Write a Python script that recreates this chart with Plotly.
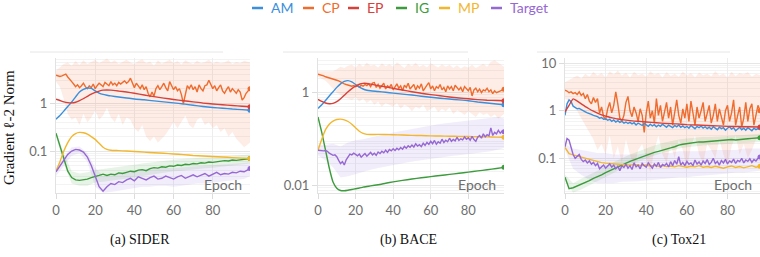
import plotly.graph_objects as go

# ---------------- data ----------------
SERIES = ["AM", "CP", "EP", "IG", "MP", "Target"]
PANELS = ["(a) SIDER", "(b) BACE", "(c) Tox21"]
Y_TITLE = "Gradient \u2113-2 Norm"

EPOCHS = list(range(100))
EPOCHS_TOX = list(range(97))
EPOCHS_2 = list(range(0, 98, 2)) + [99]
EPOCHS_2_TOX = list(range(0, 97, 2))
SMOOTH = [0, 2, 4, 6, 8, 10, 12, 14, 16, 18, 20, 22, 24, 26, 28, 32, 36, 40, 45, 50,
          55, 60, 65, 70, 75, 80, 85, 90, 95, 99]
SMOOTH_TOX = [0, 2, 4, 6, 8, 10, 12, 14, 16, 18, 20, 22, 24, 26, 28, 32, 36, 40, 45, 50,
              55, 60, 65, 70, 75, 80, 85, 90, 96]
BAND = list(range(0, 97, 4)) + [99]
BAND_TOX = list(range(0, 97, 4))

# ---- SIDER ----
SIDER_AM = [0.46, 0.55, 0.68, 0.85, 1.05, 1.35, 1.7, 1.92, 2.06, 2.02,
            1.8, 1.62, 1.52, 1.46, 1.41, 1.34, 1.28, 1.22, 1.17, 1.11,
            1.06, 1.01, 0.96, 0.9, 0.85, 0.81, 0.78, 0.75, 0.73, 0.71]
SIDER_EP = [1.2, 1.13, 1.06, 1.02, 1.01, 1.04, 1.12, 1.24, 1.38, 1.53,
            1.67, 1.78, 1.86, 1.88, 1.86, 1.78, 1.7, 1.6, 1.47, 1.36,
            1.27, 1.19, 1.12, 1.06, 1.0, 0.96, 0.92, 0.89, 0.86, 0.84]
SIDER_MP = [0.038, 0.06, 0.1, 0.15, 0.2, 0.232, 0.245, 0.24, 0.225, 0.2,
            0.175, 0.145, 0.12, 0.108, 0.104, 0.102, 0.1, 0.098, 0.095, 0.092,
            0.09, 0.087, 0.084, 0.081, 0.079, 0.077, 0.075, 0.073, 0.071, 0.07]
SIDER_CP = [3.8, 3.7, 3.6, 3.7, 3.9, 4.0, 3.5, 3.2, 2.8, 2.5,
            2.2, 2.4, 2.1, 2.3, 2.6, 2.2, 2.0, 2.3, 2.1, 2.5,
            2.0, 2.3, 2.6, 2.4, 2.2, 2.7, 2.5, 2.3, 2.8, 2.4,
            2.6, 2.3, 2.7, 2.5, 2.7, 2.9, 2.6, 2.8, 3.3, 2.6,
            2.1, 2.6, 2.3, 2.0, 2.4, 1.9, 2.2, 1.6, 1.35, 1.7,
            1.4, 2.0, 2.3, 1.9, 2.2, 2.6, 2.1, 1.8, 2.8, 2.2,
            1.9, 2.2, 1.8, 2.0, 1.5, 0.98, 1.6, 2.3, 2.0, 2.4,
            1.9, 2.2, 1.7, 2.4, 2.0, 1.8, 2.3, 2.4, 3.0, 2.5,
            2.0, 2.3, 1.8, 2.1, 2.4, 1.8, 1.6, 1.9, 2.2, 1.7,
            2.0, 1.8, 1.6, 1.9, 1.7, 1.15, 1.3, 1.6, 1.8, 2.0]
SIDER_CP_HI = [4.8, 5.5, 6.5, 7.0, 6.0, 7.5, 6.2, 7.8, 6.5, 7.2,
               8.0, 6.8, 7.5, 8.5, 7.0, 7.8, 6.5, 7.2, 8.0, 7.0,
               6.5, 7.5, 8.2, 6.8, 7.4, 6.0, 7.8, 6.6, 7.2, 8.0,
               6.8, 7.5, 6.4, 7.8, 7.0, 6.5, 7.6, 6.8, 7.2, 8.0,
               6.6, 7.4, 6.8, 7.0, 7.8, 6.5, 7.2, 6.8, 7.6, 7.0]
SIDER_CP_LO = [2.8, 2.2, 1.2, 0.6, 0.45, 0.5, 0.35, 0.6, 0.4, 0.5,
               0.7, 0.45, 0.55, 0.8, 0.5, 0.4, 0.6, 0.35, 0.5, 0.45,
               0.3, 0.25, 0.35, 0.2, 0.16, 0.2, 0.15, 0.18, 0.22, 0.3,
               0.4, 0.3, 0.4, 0.55, 0.35, 0.3, 0.45, 0.5, 0.35, 0.4,
               0.3, 0.35, 0.25, 0.3, 0.2, 0.25, 0.18, 0.15, 0.12, 0.15]
SIDER_IG = [0.235, 0.13, 0.07, 0.038, 0.028, 0.025, 0.0245, 0.025, 0.026, 0.028,
            0.03, 0.031, 0.033, 0.031, 0.033, 0.032, 0.035, 0.034, 0.036, 0.038,
            0.037, 0.04, 0.041, 0.039, 0.043, 0.045, 0.044, 0.047, 0.046, 0.049,
            0.048, 0.051, 0.05, 0.053, 0.052, 0.055, 0.054, 0.057, 0.056, 0.059,
            0.058, 0.06, 0.061, 0.063, 0.062, 0.065, 0.064, 0.066, 0.068, 0.07]
SIDER_IG_HI = [0.26, 0.09, 0.038, 0.034, 0.036, 0.04, 0.042, 0.044, 0.046, 0.048,
               0.052, 0.055, 0.058, 0.061, 0.063, 0.066, 0.068, 0.07, 0.072, 0.074,
               0.076, 0.078, 0.08, 0.082, 0.084, 0.085]
SIDER_IG_LO = [0.2, 0.055, 0.021, 0.019, 0.019, 0.022, 0.023, 0.024, 0.025, 0.026,
               0.028, 0.03, 0.032, 0.034, 0.036, 0.038, 0.039, 0.041, 0.042, 0.044,
               0.045, 0.047, 0.049, 0.05, 0.052, 0.055]
SIDER_TG = [0.037, 0.048, 0.065, 0.085, 0.1, 0.108, 0.105, 0.095, 0.075, 0.05,
            0.03, 0.018, 0.0145, 0.018, 0.021, 0.02, 0.023, 0.022, 0.025, 0.027,
            0.024, 0.029, 0.027, 0.025, 0.028, 0.03, 0.026, 0.027, 0.03, 0.028,
            0.026, 0.029, 0.031, 0.027, 0.03, 0.032, 0.029, 0.031, 0.034, 0.03,
            0.033, 0.036, 0.032, 0.034, 0.033, 0.036, 0.035, 0.038, 0.037, 0.043]
SIDER_TG_HI = [0.045, 0.075, 0.12, 0.125, 0.09, 0.045, 0.03, 0.032, 0.036, 0.038,
               0.04, 0.042, 0.043, 0.044, 0.045, 0.044, 0.046, 0.047, 0.048, 0.049,
               0.05, 0.052, 0.053, 0.054, 0.056, 0.058]
SIDER_TG_LO = [0.03, 0.05, 0.08, 0.09, 0.06, 0.018, 0.0135, 0.014, 0.015, 0.016,
               0.017, 0.018, 0.018, 0.019, 0.019, 0.018, 0.019, 0.02, 0.021, 0.021,
               0.022, 0.023, 0.024, 0.025, 0.026, 0.03]

# ---- BACE ----
BACE_AM = [0.46, 0.55, 0.68, 0.85, 1.05, 1.3, 1.55, 1.75, 1.82, 1.7,
           1.5, 1.32, 1.2, 1.13, 1.1, 1.06, 1.02, 0.98, 0.93, 0.89,
           0.84, 0.8, 0.76, 0.73, 0.7, 0.67, 0.63, 0.6, 0.57, 0.55]
BACE_EP = [0.72, 0.65, 0.6, 0.58, 0.59, 0.64, 0.74, 0.88, 1.05, 1.22,
           1.38, 1.52, 1.59, 1.58, 1.53, 1.42, 1.33, 1.24, 1.14, 1.05,
           0.97, 0.91, 0.86, 0.81, 0.77, 0.74, 0.71, 0.69, 0.68, 0.67]
BACE_MP = [0.058, 0.1, 0.16, 0.21, 0.245, 0.265, 0.27, 0.26, 0.24, 0.21,
           0.175, 0.148, 0.133, 0.127, 0.126, 0.127, 0.126, 0.125, 0.123, 0.121,
           0.12, 0.118, 0.117, 0.116, 0.115, 0.114, 0.113, 0.112, 0.111, 0.11]
BACE_IG = [0.3, 0.14, 0.058, 0.024, 0.012, 0.0088, 0.0079, 0.0078, 0.008, 0.0083,
           0.0086, 0.0089, 0.0093, 0.0096, 0.0099, 0.0105, 0.0113, 0.0121, 0.013, 0.0139,
           0.0148, 0.0157, 0.0166, 0.0175, 0.0185, 0.0196, 0.0208, 0.022, 0.0234, 0.0248]
BACE_CP = [2.5, 2.45, 2.35, 2.3, 2.2, 2.15, 2.1, 2.0, 1.95, 1.9,
           1.85, 1.8, 1.7, 1.62, 1.55, 1.5, 1.45, 1.4, 1.38, 1.42,
           1.35, 1.4, 1.32, 1.45, 1.38, 1.5, 1.42, 1.55, 1.35, 1.6,
           1.65, 1.3, 1.5, 1.25, 1.45, 1.6, 1.2, 1.4, 1.3, 1.5,
           1.15, 1.35, 1.55, 1.25, 1.4, 1.1, 1.45, 1.3, 1.6, 1.2,
           1.35, 1.5, 1.15, 1.4, 1.25, 1.55, 1.1, 1.3, 1.45, 1.65,
           1.2, 1.4, 1.1, 1.35, 1.25, 1.5, 1.15, 1.3, 1.05, 1.4,
           1.2, 1.35, 1.1, 1.45, 1.25, 1.15, 1.3, 1.05, 1.35, 1.2,
           1.1, 1.3, 0.85, 1.15, 1.25, 1.05, 1.2, 1.0, 1.15, 1.1,
           1.25, 1.05, 1.15, 0.95, 1.1, 1.0, 1.05, 1.1, 1.15, 1.18]
BACE_CP_HI = [2.9, 2.9, 2.8, 2.8, 2.9, 3.2, 3.6, 3.4, 3.8, 4.0,
              3.5, 4.2, 3.6, 4.4, 3.8, 4.0, 3.5, 4.3, 3.7, 4.1,
              3.6, 4.5, 3.9, 3.4, 4.2, 3.7, 4.4, 3.6, 4.0, 3.5,
              4.3, 3.8, 3.5, 4.1, 3.6, 4.0, 3.4, 3.9, 3.3, 3.7,
              3.5, 4.0, 3.4, 3.8, 4.2, 3.6, 4.6, 5.0, 4.4, 3.6]
BACE_CP_LO = [2.2, 2.0, 1.8, 1.5, 1.2, 1.0, 0.9, 0.8, 0.75, 0.7,
              0.8, 0.65, 0.75, 0.6, 0.7, 0.55, 0.65, 0.5, 0.6, 0.55,
              0.5, 0.6, 0.45, 0.55, 0.5, 0.4, 0.5, 0.45, 0.55, 0.4,
              0.45, 0.5, 0.38, 0.45, 0.4, 0.48, 0.35, 0.42, 0.38, 0.33,
              0.4, 0.35, 0.3, 0.38, 0.33, 0.36, 0.3, 0.34, 0.28, 0.35]
BACE_TG = [0.058, 0.057, 0.058, 0.056, 0.057, 0.055, 0.05, 0.047, 0.045, 0.046,
           0.042, 0.035, 0.03, 0.033, 0.028, 0.036, 0.042, 0.048, 0.046, 0.05,
           0.047, 0.044, 0.048, 0.041, 0.045, 0.049, 0.043, 0.047, 0.052, 0.046,
           0.05, 0.045, 0.053, 0.049, 0.055, 0.051, 0.058, 0.052, 0.06, 0.056,
           0.062, 0.057, 0.064, 0.059, 0.066, 0.061, 0.07, 0.064, 0.072, 0.067,
           0.075, 0.068, 0.08, 0.071, 0.076, 0.069, 0.082, 0.074, 0.085, 0.077,
           0.09, 0.08, 0.094, 0.078, 0.088, 0.082, 0.1, 0.085, 0.095, 0.088,
           0.105, 0.09, 0.099, 0.092, 0.11, 0.094, 0.102, 0.097, 0.112, 0.1,
           0.107, 0.095, 0.115, 0.098, 0.09, 0.11, 0.12, 0.105, 0.13, 0.112,
           0.125, 0.118, 0.175, 0.12, 0.14, 0.13, 0.155, 0.135, 0.15, 0.145]
BACE_TG_HI = [0.075, 0.075, 0.08, 0.07, 0.085, 0.095, 0.1, 0.11, 0.12, 0.13,
              0.14, 0.15, 0.165, 0.175, 0.19, 0.2, 0.21, 0.22, 0.23, 0.24,
              0.25, 0.26, 0.27, 0.28, 0.3, 0.28]
BACE_TG_LO = [0.045, 0.035, 0.025, 0.015, 0.016, 0.018, 0.02, 0.022, 0.024, 0.026,
              0.028, 0.03, 0.032, 0.034, 0.036, 0.038, 0.04, 0.042, 0.044, 0.046,
              0.048, 0.05, 0.052, 0.055, 0.06, 0.065]

# ---- Tox21 ----
TOX_EP = [0.95, 1.3, 1.78, 1.6, 1.4, 1.22, 1.09, 0.98, 0.89, 0.82,
          0.77, 0.73, 0.7, 0.67, 0.65, 0.62, 0.6, 0.58, 0.56, 0.54,
          0.53, 0.51, 0.5, 0.49, 0.48, 0.47, 0.465, 0.46, 0.455]
TOX_CP = [2.7, 2.6, 2.4, 2.5, 2.3, 2.4, 2.2, 2.5, 2.1, 2.3,
          1.8, 2.2, 1.6, 1.4, 1.9, 1.5, 1.8, 0.9, 1.2, 0.75,
          0.65, 1.1, 1.5, 0.9, 1.3, 2.5, 1.4, 0.7, 0.6, 0.8,
          1.5, 2.0, 1.0, 0.75, 1.2, 0.9, 0.6, 1.1, 0.8, 0.35,
          0.9, 1.6, 0.7, 1.0, 0.55, 1.8, 0.8, 1.3, 0.6, 0.9,
          1.5, 0.7, 1.2, 0.5, 1.0, 1.7, 0.8, 0.55, 1.1, 0.7,
          1.4, 0.6, 1.6, 0.8, 0.5, 1.2, 0.7, 1.0, 1.5, 0.6,
          0.9, 1.3, 0.55, 0.8, 1.4, 0.6, 1.1, 0.75, 0.5, 1.0,
          1.3, 0.6, 0.9, 1.7, 0.5, 0.8, 1.2, 0.45, 0.7, 1.5,
          0.6, 1.1, 1.4, 0.5, 0.9, 1.3, 1.0]
TOX_CP_HI = [4.0, 4.5, 5.0, 5.5, 4.8, 6.0, 5.2, 6.5, 5.5, 6.2,
             5.0, 6.8, 5.8, 7.0, 5.5, 6.3, 5.0, 6.6, 5.6, 6.0,
             5.2, 6.8, 5.7, 6.2, 5.0, 6.5, 5.4, 6.0, 5.2, 6.7,
             5.5, 6.2, 5.0, 6.4, 5.6, 6.0, 5.3, 6.8, 5.5, 6.1,
             5.0, 6.6, 5.4, 6.2, 5.8, 6.5, 5.2, 6.0, 5.6]
TOX_CP_LO = [1.8, 1.6, 1.3, 1.0, 0.7, 0.5, 0.35, 0.25, 0.15, 0.2,
             0.12, 0.3, 0.1, 0.18, 0.08, 0.25, 0.12, 0.06, 0.15, 0.2,
             0.1, 0.05, 0.15, 0.3, 0.12, 0.08, 0.2, 0.1, 0.25, 0.15,
             0.06, 0.18, 0.3, 0.12, 0.08, 0.2, 0.15, 0.1, 0.25, 0.12,
             0.07, 0.18, 0.3, 0.12, 0.2, 0.1, 0.15, 0.25, 0.3]
TOX_AM = [0.8, 1.4, 1.7, 1.55, 1.25, 1.15, 1.1, 1.12, 1.05, 0.98,
          0.95, 0.9, 0.88, 0.84, 0.8, 0.78, 0.75, 0.7, 0.72, 0.66,
          0.68, 0.63, 0.66, 0.6, 0.64, 0.58, 0.62, 0.57, 0.6, 0.55,
          0.58, 0.54, 0.57, 0.53, 0.56, 0.5, 0.55, 0.52, 0.49, 0.54,
          0.5, 0.47, 0.52, 0.48, 0.51, 0.46, 0.5, 0.47, 0.52, 0.48,
          0.45, 0.5, 0.47, 0.44, 0.49, 0.46, 0.5, 0.45, 0.48, 0.44,
          0.47, 0.43, 0.49, 0.45, 0.42, 0.47, 0.44, 0.48, 0.43, 0.46,
          0.42, 0.45, 0.41, 0.46, 0.43, 0.4, 0.45, 0.42, 0.44, 0.39,
          0.43, 0.46, 0.41, 0.44, 0.38, 0.42, 0.45, 0.4, 0.43, 0.39,
          0.44, 0.41, 0.38, 0.43, 0.4, 0.42, 0.44]
TOX_MP = [0.17, 0.125, 0.118, 0.112, 0.106, 0.1, 0.094, 0.089, 0.084, 0.081,
          0.079, 0.077, 0.076, 0.075, 0.074, 0.073, 0.072, 0.074, 0.071, 0.07,
          0.072, 0.069, 0.071, 0.068, 0.07, 0.067, 0.069, 0.066, 0.07, 0.067,
          0.065, 0.068, 0.066, 0.07, 0.065, 0.067, 0.064, 0.068, 0.066, 0.062,
          0.066, 0.069, 0.064, 0.067, 0.063, 0.066, 0.07, 0.065, 0.068]
TOX_IG = [0.04, 0.023, 0.024, 0.026, 0.029, 0.031, 0.034, 0.038, 0.041, 0.045,
          0.05, 0.055, 0.061, 0.066, 0.072, 0.078, 0.086, 0.093, 0.1, 0.108,
          0.118, 0.125, 0.133, 0.14, 0.15, 0.158, 0.166, 0.175, 0.19, 0.198,
          0.205, 0.21, 0.218, 0.222, 0.22, 0.225, 0.23, 0.228, 0.232, 0.24,
          0.245, 0.248, 0.243, 0.25, 0.255, 0.258, 0.262, 0.265, 0.27]
TOX_IG_HI = [0.045, 0.03, 0.037, 0.045, 0.055, 0.07, 0.085, 0.1, 0.12, 0.14,
             0.16, 0.185, 0.21, 0.23, 0.25, 0.26, 0.27, 0.28, 0.28, 0.29,
             0.3, 0.3, 0.31, 0.32, 0.33]
TOX_IG_LO = [0.033, 0.019, 0.022, 0.027, 0.033, 0.04, 0.05, 0.06, 0.072, 0.085,
             0.1, 0.115, 0.13, 0.145, 0.16, 0.17, 0.18, 0.185, 0.19, 0.195,
             0.2, 0.205, 0.21, 0.215, 0.22]
TOX_TG = [0.175, 0.26, 0.24, 0.16, 0.12, 0.1, 0.11, 0.12, 0.095, 0.085,
          0.092, 0.08, 0.088, 0.075, 0.082, 0.07, 0.078, 0.06, 0.066, 0.072,
          0.062, 0.07, 0.076, 0.065, 0.072, 0.06, 0.068, 0.055, 0.07, 0.064,
          0.075, 0.062, 0.07, 0.058, 0.08, 0.066, 0.072, 0.06, 0.078, 0.07,
          0.065, 0.08, 0.07, 0.062, 0.076, 0.068, 0.082, 0.064, 0.074, 0.07,
          0.078, 0.066, 0.085, 0.07, 0.09, 0.075, 0.108, 0.072, 0.082, 0.07,
          0.086, 0.075, 0.08, 0.07, 0.092, 0.076, 0.084, 0.072, 0.088, 0.078,
          0.094, 0.074, 0.082, 0.1, 0.078, 0.086, 0.072, 0.09, 0.08, 0.095,
          0.076, 0.088, 0.082, 0.096, 0.078, 0.09, 0.085, 0.1, 0.08, 0.092,
          0.086, 0.098, 0.082, 0.094, 0.088, 0.1, 0.107]
TOX_TG_HI = [0.2, 0.16, 0.15, 0.14, 0.13, 0.13, 0.12, 0.12, 0.12, 0.12,
             0.13, 0.13, 0.13, 0.13, 0.14, 0.14, 0.14, 0.14, 0.15, 0.15,
             0.15, 0.15, 0.16, 0.16, 0.16]
TOX_TG_LO = [0.15, 0.06, 0.045, 0.035, 0.03, 0.03, 0.03, 0.032, 0.032, 0.033,
             0.034, 0.035, 0.036, 0.038, 0.04, 0.04, 0.042, 0.043, 0.045, 0.046,
             0.048, 0.05, 0.05, 0.052, 0.055]

# ---------------- style ----------------
COLORS = {"AM": "#3b8fdc", "CP": "#ef6c2e", "EP": "#d8403a",
          "IG": "#3c9b3c", "MP": "#f2b72e", "Target": "#9668d4"}
FILLS = {"CP": "rgba(239,108,46,0.12)", "IG": "rgba(60,155,60,0.12)",
         "Target": "rgba(150,104,212,0.12)"}
SANS = "Lato, 'Noto Sans', sans-serif"
SERIF = "'Liberation Serif', 'DejaVu Serif', serif"

fig = go.Figure()


def axes(p):
    return ("x" if p == 1 else f"x{p}", "y" if p == 1 else f"y{p}")


def band(p, name, x, lo, hi):
    xa, ya = axes(p)
    fig.add_trace(go.Scatter(x=x, y=hi, mode="lines", line=dict(width=0),
                             xaxis=xa, yaxis=ya, showlegend=False, hoverinfo="skip"))
    fig.add_trace(go.Scatter(x=x, y=lo, mode="lines", line=dict(width=0),
                             fill="tonexty", fillcolor=FILLS[name],
                             xaxis=xa, yaxis=ya, showlegend=False, hoverinfo="skip"))


def line(p, name, x, y, smooth=False):
    xa, ya = axes(p)
    ln = dict(color=COLORS[name], width=1.4)
    if smooth:
        ln.update(shape="spline", smoothing=0.5)
    fig.add_trace(go.Scatter(x=x, y=y, mode="lines", line=ln, xaxis=xa, yaxis=ya,
                             showlegend=False, hoverinfo="skip"))
    fig.add_trace(go.Scatter(x=[x[-1]], y=[y[-1]], mode="markers",
                             marker=dict(color=COLORS[name], size=5),
                             xaxis=xa, yaxis=ya, showlegend=False, hoverinfo="skip"))


# SIDER
band(1, "CP", EPOCHS_2, SIDER_CP_LO, SIDER_CP_HI)
band(1, "IG", BAND, SIDER_IG_LO, SIDER_IG_HI)
band(1, "Target", BAND, SIDER_TG_LO, SIDER_TG_HI)
line(1, "CP", EPOCHS, SIDER_CP)
line(1, "AM", SMOOTH, SIDER_AM, True)
line(1, "EP", SMOOTH, SIDER_EP, True)
line(1, "IG", EPOCHS_2, SIDER_IG)
line(1, "MP", SMOOTH, SIDER_MP, True)
line(1, "Target", EPOCHS_2, SIDER_TG)

# BACE
band(2, "CP", EPOCHS_2, BACE_CP_LO, BACE_CP_HI)
band(2, "Target", BAND, BACE_TG_LO, BACE_TG_HI)
line(2, "CP", EPOCHS, BACE_CP)
line(2, "AM", SMOOTH, BACE_AM, True)
line(2, "EP", SMOOTH, BACE_EP, True)
line(2, "IG", SMOOTH, BACE_IG, True)
line(2, "MP", SMOOTH, BACE_MP, True)
line(2, "Target", EPOCHS, BACE_TG)

# Tox21
band(3, "CP", EPOCHS_2_TOX, TOX_CP_LO, TOX_CP_HI)
band(3, "IG", BAND_TOX, TOX_IG_LO, TOX_IG_HI)
band(3, "Target", BAND_TOX, TOX_TG_LO, TOX_TG_HI)
line(3, "CP", EPOCHS_TOX, TOX_CP)
line(3, "AM", EPOCHS_TOX, TOX_AM)
line(3, "EP", SMOOTH_TOX, TOX_EP, True)
line(3, "IG", EPOCHS_2_TOX, TOX_IG)
line(3, "MP", EPOCHS_2_TOX, TOX_MP)
line(3, "Target", EPOCHS_TOX, TOX_TG)

# ---------------- layout ----------------
W, H, T, B = 760, 257, 58, 64
PH = H - T - B
X_DOMAINS = [(56, 250), (318, 504), (565, 760)]
X_RANGES = [[0, 99], [0, 99], [0, 96]]
Y_RANGES = [[-1.875, 0.94], [-2.157, 0.746], [-1.73, 1.11]]
Y_TICKS = [[0.1, 1], [0.01, 1], [0.1, 1, 10]]
Y_TEXT = [["0.1", "1"], ["0.01", "1"], ["0.1", "1", "10"]]
minor_vals = [k * 10.0 ** e for e in (-3, -2, -1, 0, 1) for k in range(2, 10)]

layout = dict(width=W, height=H, margin=dict(l=0, r=0, t=T, b=B, autoexpand=False),
              paper_bgcolor="white", plot_bgcolor="white", showlegend=False,
              font=dict(family=SANS, color="#6b6b6b", size=13))
for i in range(3):
    p = i + 1
    xk = "xaxis" if p == 1 else f"xaxis{p}"
    yk = "yaxis" if p == 1 else f"yaxis{p}"
    xa, ya = axes(p)
    layout[xk] = dict(domain=[X_DOMAINS[i][0] / W, X_DOMAINS[i][1] / W], anchor=ya,
                      range=X_RANGES[i], tickvals=[0, 20, 40, 60, 80], automargin=False,
                      showgrid=True, gridcolor="#ededed", gridwidth=1, zeroline=False,
                      showline=True, linecolor="#e2e2e2", ticks="outside", ticklen=5,
                      tickcolor="#dcdcdc", tickfont=dict(size=13, color="#6e6e6e"))
    layout[yk] = dict(domain=[0, 1], anchor=xa, type="log", range=Y_RANGES[i],
                      tickvals=Y_TICKS[i], ticktext=Y_TEXT[i], automargin=False,
                      showgrid=True, gridcolor="#e6e6e6", zeroline=False,
                      showline=True, linecolor="#e2e2e2", ticks="outside", ticklen=5,
                      tickcolor="#dcdcdc", tickfont=dict(size=13, color="#6e6e6e"),
                      minor=dict(tickvals=minor_vals, showgrid=True,
                                 gridcolor="#f3f3f3", ticks=""))
fig.update_layout(**layout)

ann = []
shapes = []
# header rule above each panel
for (x0, x1) in [(30, 223), (283, 468), (537, 730)]:
    shapes.append(dict(type="line", xref="paper", yref="paper", x0=x0 / W, x1=x1 / W,
                       y0=(H - B - 52) / PH, y1=(H - B - 52) / PH,
                       line=dict(color="#e6e6e6", width=1)))
# "Epoch" labels
for p in (1, 2, 3):
    xa, ya = axes(p)
    ann.append(dict(text="Epoch", xref=f"{xa} domain", yref=f"{ya} domain",
                    x=0.97, y=0.06, xanchor="right", yanchor="middle", showarrow=False,
                    font=dict(family=SANS, size=14, color="#6e6e6e")))
# captions
for cx, txt in zip((140, 409, 679), PANELS):
    ann.append(dict(text=txt, xref="paper", yref="paper", x=cx / W, y=(H - B - 240) / PH,
                    xanchor="center", yanchor="middle", showarrow=False,
                    font=dict(family=SERIF, size=14, color="#111")))
# y-title
ann.append(dict(text=Y_TITLE, xref="paper", yref="paper", x=9 / W, y=(H - B - 128) / PH,
                xanchor="center", yanchor="middle", textangle=-90, showarrow=False,
                font=dict(family=SERIF, size=15, color="#111")))
# legend (custom, top centre)
LEG_X = [252, 303, 348, 396, 439, 491]
ly = (H - B - 8) / PH
for name, lx in zip(SERIES, LEG_X):
    shapes.append(dict(type="line", xref="paper", yref="paper", x0=lx / W, x1=(lx + 11) / W,
                       y0=ly, y1=ly, line=dict(color=COLORS[name], width=2.5)))
    ann.append(dict(text=name, xref="paper", yref="paper", x=(lx + 17) / W, y=ly,
                    xanchor="left", yanchor="middle", showarrow=False,
                    font=dict(family=SANS, size=14, color=COLORS[name])))
fig.update_layout(annotations=ann, shapes=shapes)

fig.write_html("out.html", config={"displayModeBar": False, "staticPlot": True},
               post_script="document.body.style.margin='0px';")
